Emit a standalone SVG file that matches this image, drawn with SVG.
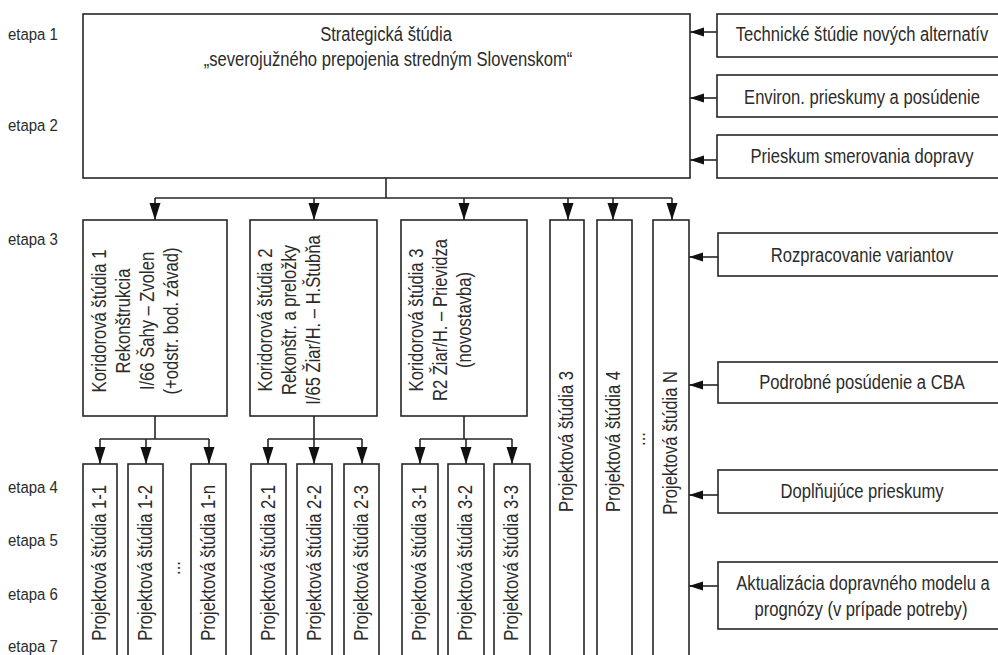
<svg xmlns="http://www.w3.org/2000/svg" width="998" height="655" viewBox="0 0 998 655">
<style>
.bx{fill:#fff;stroke:#262626;stroke-width:1.6}
.ln{fill:none;stroke:#262626;stroke-width:1.6}
.t{font-family:"Liberation Sans",Arial,sans-serif;font-size:21px;fill:#2b2b2b;text-anchor:middle}
.v{font-family:"Liberation Sans",Arial,sans-serif;font-size:21px;fill:#2b2b2b;text-anchor:middle}
.ve{font-family:"Liberation Sans",Arial,sans-serif;font-size:21px;fill:#2b2b2b;text-anchor:end}
.e{font-family:"Liberation Sans",Arial,sans-serif;font-size:17px;fill:#2b2b2b}
</style>
<defs>
<marker id="arrV" markerUnits="userSpaceOnUse" markerWidth="18" markerHeight="12" refX="17" refY="5.5" orient="auto"><path d="M0,0 L17,5.5 L0,11 z" fill="#111"/></marker>
<marker id="arrH" markerUnits="userSpaceOnUse" markerWidth="15" markerHeight="10" refX="14" refY="4.5" orient="auto"><path d="M0,0 L14,4.5 L0,9 z" fill="#111"/></marker>
</defs>
<rect width="998" height="655" fill="#fff"/>

<g id="etapy">
<text class="e" transform="translate(8,40) scale(0.88,1)">etapa 1</text>
<text class="e" transform="translate(8,131) scale(0.88,1)">etapa 2</text>
<text class="e" transform="translate(8,245) scale(0.88,1)">etapa 3</text>
<text class="e" transform="translate(8,493) scale(0.88,1)">etapa 4</text>
<text class="e" transform="translate(8,546) scale(0.88,1)">etapa 5</text>
<text class="e" transform="translate(8,600) scale(0.88,1)">etapa 6</text>
<text class="e" transform="translate(8,652) scale(0.88,1)">etapa 7</text>
</g>

<g id="connectors">
<line class="ln" x1="717" y1="32" x2="690" y2="32" marker-end="url(#arrH)"/>
<line class="ln" x1="717" y1="98" x2="690" y2="98" marker-end="url(#arrH)"/>
<line class="ln" x1="717" y1="160" x2="690" y2="160" marker-end="url(#arrH)"/>
<line class="ln" x1="718" y1="257" x2="689" y2="257" marker-end="url(#arrH)"/>
<line class="ln" x1="718" y1="385" x2="689" y2="385" marker-end="url(#arrH)"/>
<line class="ln" x1="718" y1="495" x2="689" y2="495" marker-end="url(#arrH)"/>
<line class="ln" x1="718" y1="586" x2="689" y2="586" marker-end="url(#arrH)"/>
<path class="ln" d="M386,178 V198 M155,198 H672"/>
<line class="ln" x1="155" y1="198" x2="155" y2="220" marker-end="url(#arrV)"/>
<line class="ln" x1="314" y1="198" x2="314" y2="220" marker-end="url(#arrV)"/>
<line class="ln" x1="464" y1="198" x2="464" y2="220" marker-end="url(#arrV)"/>
<line class="ln" x1="568" y1="198" x2="568" y2="220" marker-end="url(#arrV)"/>
<line class="ln" x1="613" y1="198" x2="613" y2="220" marker-end="url(#arrV)"/>
<line class="ln" x1="672" y1="198" x2="672" y2="220" marker-end="url(#arrV)"/>
<path class="ln" d="M155,416 V439 M100,439 H209 M314,416 V439 M268,439 H362 M464,416 V439 M420,439 H512"/>
<line class="ln" x1="100" y1="439" x2="100" y2="464" marker-end="url(#arrV)"/>
<line class="ln" x1="146" y1="439" x2="146" y2="464" marker-end="url(#arrV)"/>
<line class="ln" x1="209" y1="439" x2="209" y2="464" marker-end="url(#arrV)"/>
<line class="ln" x1="268" y1="439" x2="268" y2="464" marker-end="url(#arrV)"/>
<line class="ln" x1="314" y1="439" x2="314" y2="464" marker-end="url(#arrV)"/>
<line class="ln" x1="362" y1="439" x2="362" y2="464" marker-end="url(#arrV)"/>
<line class="ln" x1="420" y1="439" x2="420" y2="464" marker-end="url(#arrV)"/>
<line class="ln" x1="466" y1="439" x2="466" y2="464" marker-end="url(#arrV)"/>
<line class="ln" x1="512" y1="439" x2="512" y2="464" marker-end="url(#arrV)"/>
</g>

<g id="strategicka">
<rect class="bx" x="83" y="14" width="607" height="164"/>
<text class="t" transform="translate(386,41) scale(0.79,1)">Strategická štúdia</text>
<text class="t" transform="translate(388,66) scale(0.79,1)">„severojužného prepojenia stredným Slovenskom“</text>
</g>

<g id="technicke"><rect class="bx" x="717" y="14" width="300" height="43"/><text class="t" transform="translate(862,41) scale(0.79,1)">Technické štúdie nových alternatív</text></g>
<g id="environ"><rect class="bx" x="717" y="75" width="300" height="42"/><text class="t" transform="translate(862,104) scale(0.79,1)">Environ. prieskumy a posúdenie</text></g>
<g id="prieskum"><rect class="bx" x="717" y="135" width="300" height="43"/><text class="t" transform="translate(862,163) scale(0.79,1)">Prieskum smerovania dopravy</text></g>
<g id="rozpracovanie"><rect class="bx" x="718" y="233" width="300" height="43"/><text class="t" transform="translate(862,262) scale(0.79,1)">Rozpracovanie variantov</text></g>
<g id="podrobne"><rect class="bx" x="718" y="362" width="300" height="41"/><text class="t" transform="translate(862,389) scale(0.79,1)">Podrobné posúdenie a CBA</text></g>
<g id="doplnujuce"><rect class="bx" x="718" y="470" width="300" height="43"/><text class="t" transform="translate(862,498) scale(0.79,1)">Doplňujúce prieskumy</text></g>
<g id="aktualizacia"><rect class="bx" x="718" y="562" width="300" height="67"/>
<text class="t" transform="translate(863,590) scale(0.79,1)">Aktualizácia dopravného modelu a</text>
<text class="t" transform="translate(861,616) scale(0.79,1)">prognózy (v prípade potreby)</text></g>

<g id="koridor1"><rect class="bx" x="83" y="220" width="144" height="196"/>
<text class="v" transform="translate(106,321) rotate(-90) scale(0.79,1)">Koridorová štúdia 1</text>
<text class="v" transform="translate(130,321) rotate(-90) scale(0.79,1)">Rekonštrukcia</text>
<text class="v" transform="translate(154,321) rotate(-90) scale(0.79,1)">I/66 Šahy –  Zvolen</text>
<text class="v" transform="translate(178,321) rotate(-90) scale(0.79,1)">(+odstr. bod. závad)</text></g>
<g id="koridor2"><rect class="bx" x="250" y="220" width="127" height="196"/>
<text class="v" transform="translate(272,320) rotate(-90) scale(0.79,1)">Koridorová štúdia 2</text>
<text class="v" transform="translate(296,320) rotate(-90) scale(0.79,1)">Rekonštr. a preložky</text>
<text class="v" transform="translate(320,320) rotate(-90) scale(0.79,1)">I/65 Žiar/H. – H.Štubňa</text></g>
<g id="koridor3"><rect class="bx" x="401" y="220" width="126" height="196"/>
<text class="v" transform="translate(423,320) rotate(-90) scale(0.79,1)">Koridorová štúdia 3</text>
<text class="v" transform="translate(447,320) rotate(-90) scale(0.79,1)">R2 Žiar/H. –  Prievidza</text>
<text class="v" transform="translate(471,320) rotate(-90) scale(0.79,1)">(novostavba)</text></g>

<g id="ps3"><rect class="bx" x="550" y="220" width="34" height="460"/><text class="ve" transform="translate(573,371) rotate(-90) scale(0.79,1)">Projektová štúdia 3</text></g>
<g id="ps4"><rect class="bx" x="597" y="220" width="35" height="460"/><text class="ve" transform="translate(620,371) rotate(-90) scale(0.79,1)">Projektová štúdia 4</text></g>
<g id="dots2"><text class="v" transform="translate(645,439) rotate(-90) scale(0.79,1)">...</text></g>
<g id="psN"><rect class="bx" x="653" y="220" width="36" height="460"/><text class="ve" transform="translate(677,371) rotate(-90) scale(0.79,1)">Projektová štúdia N</text></g>

<g id="ps1-1"><rect class="bx" x="83" y="464" width="34" height="220"/><text class="ve" transform="translate(106,485) rotate(-90) scale(0.79,1)">Projektová štúdia 1-1</text></g>
<g id="ps1-2"><rect class="bx" x="128" y="464" width="35" height="220"/><text class="ve" transform="translate(152,485) rotate(-90) scale(0.79,1)">Projektová štúdia 1-2</text></g>
<g id="dots1"><text class="v" transform="translate(180,568) rotate(-90) scale(0.79,1)">...</text></g>
<g id="ps1-n"><rect class="bx" x="191" y="464" width="35" height="220"/><text class="ve" transform="translate(215,485) rotate(-90) scale(0.79,1)">Projektová štúdia 1-n</text></g>
<g id="ps2-1"><rect class="bx" x="251" y="464" width="35" height="220"/><text class="ve" transform="translate(275,485) rotate(-90) scale(0.79,1)">Projektová štúdia 2-1</text></g>
<g id="ps2-2"><rect class="bx" x="297" y="464" width="35" height="220"/><text class="ve" transform="translate(321,485) rotate(-90) scale(0.79,1)">Projektová štúdia 2-2</text></g>
<g id="ps2-3"><rect class="bx" x="344" y="464" width="35" height="220"/><text class="ve" transform="translate(368,485) rotate(-90) scale(0.79,1)">Projektová štúdia 2-3</text></g>
<g id="ps3-1"><rect class="bx" x="402" y="464" width="36" height="220"/><text class="ve" transform="translate(426,485) rotate(-90) scale(0.79,1)">Projektová štúdia 3-1</text></g>
<g id="ps3-2"><rect class="bx" x="448" y="464" width="36" height="220"/><text class="ve" transform="translate(472,485) rotate(-90) scale(0.79,1)">Projektová štúdia 3-2</text></g>
<g id="ps3-3"><rect class="bx" x="494" y="464" width="36" height="220"/><text class="ve" transform="translate(518,485) rotate(-90) scale(0.79,1)">Projektová štúdia 3-3</text></g>
</svg>
